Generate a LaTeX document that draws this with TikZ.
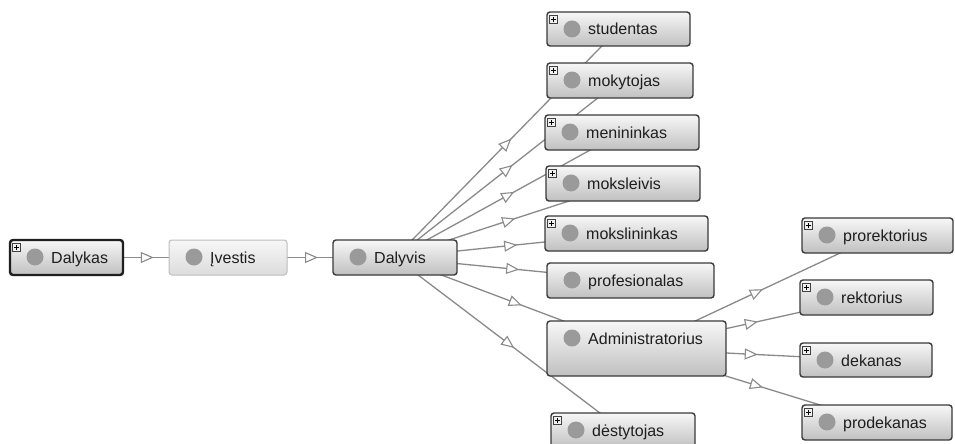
\documentclass[tikz,border=0pt]{standalone}
\usepackage{fontspec}
\setmainfont{Liberation Sans}
\usetikzlibrary{calc,arrows.meta,decorations.markings}

\pgfdeclarelayer{paper}
\pgfdeclarelayer{wires}
\pgfsetlayers{paper,wires,main}

\definecolor{boxtop}{HTML}{F7F7F7}
\definecolor{boxbot}{HTML}{C0C0C0}
\definecolor{boxline}{HTML}{3A3A3A}
\definecolor{fadetop}{HTML}{F7F7F7}
\definecolor{fadebot}{HTML}{DCDCDC}
\definecolor{fadeline}{HTML}{BDBDBD}
\definecolor{dotgray}{HTML}{9A9A9A}
\definecolor{labelink}{HTML}{1E1E1E}
\definecolor{wiregray}{HTML}{8A8A8A}

\tikzset{
  obox/.style={draw=boxline, line width=1.4pt, rounded corners=3pt,
    top color=boxtop, bottom color=boxbot, inner sep=0pt, outer sep=0pt,
    anchor=north west},
  focusbox/.style={obox, draw=black!88, line width=2.4pt},
  fadedbox/.style={obox, draw=fadeline, line width=1pt,
    top color=fadetop, bottom color=fadebot},
  dot/.style={circle, fill=dotgray, minimum size=17pt, inner sep=0pt},
  lbl/.style={anchor=base west, inner sep=0pt, text=labelink,
    font=\fontsize{16}{19}\selectfont},
  plusbox/.style={draw=black!75, line width=0.7pt, fill=black!6,
    minimum size=8pt, inner sep=0pt},
  link/.style={draw=wiregray, line width=1.3pt, postaction={decorate},
    decoration={markings, mark=at position 0.5 with
      {\arrow[xshift=6.5pt]{Triangle[length=13pt,width=11pt,fill=white,line width=1.1pt]}}}},
}

% class box: [style] name, left, top, right, bottom, label
\newcommand\ontonode[7][obox]{%
  \node[#1, minimum width={(#5-#3)*1pt}, minimum height={(#6-#4)*1pt}] (#2) at (#3,#4) {};
  \node[dot] at ($(#2.north west)+(25,17)$) {};
  \node[lbl] at ($(#2.north west)+(41,23)$) {#7};
}
% small expand marker in the upper left corner of a box
\newcommand\expander[1]{%
  \node[plusbox] (#1-plus) at ($(#1.north west)+(6.5,7.5)$) {};
  \draw[line width=1pt] ($(#1-plus.center)+(-2.6,0)$) -- +(5.2,0)
                        ($(#1-plus.center)+(0,-2.6)$) -- +(0,5.2);
}

\begin{document}
\begin{tikzpicture}[x=1pt,y=-1pt]
  \useasboundingbox (0,0) rectangle (955,444);
  \begin{pgfonlayer}{paper}
    \fill[white] (0,0) rectangle (955,444);
  \end{pgfonlayer}
  \clip (0,0) rectangle (955,444);

  % chain on the left
  \ontonode[focusbox]{dalykas}{10}{240}{123}{275}{Dalykas}
  \expander{dalykas}
  \ontonode[fadedbox]{ivestis}{169}{240}{287}{275}{Įvestis}
  \ontonode{dalyvis}{333}{240}{457}{275}{Dalyvis}

  % subclasses of Dalyvis
  \ontonode{stud}{547}{12}{690}{46}{studentas}
  \expander{stud}
  \ontonode{mokyt}{547}{63}{693}{98}{mokytojas}
  \expander{mokyt}
  \ontonode{menin}{545}{115}{699}{150}{menininkas}
  \expander{menin}
  \ontonode{moksl}{546}{166}{700}{201}{moksleivis}
  \expander{moksl}
  \ontonode{mokslin}{545}{216}{708}{251}{mokslininkas}
  \expander{mokslin}
  \ontonode{prof}{547}{263}{714}{298}{profesionalas}
  \ontonode{admin}{547}{321}{726}{376}{Administratorius}
  \ontonode{dest}{551}{413}{695}{448}{dėstytojas}
  \expander{dest}

  % subclasses of Administratorius
  \ontonode{prorekt}{802}{218}{953}{253}{prorektorius}
  \expander{prorekt}
  \ontonode{rekt}{800}{280}{933}{315}{rektorius}
  \expander{rekt}
  \ontonode{dek}{800}{343}{932}{377}{dekanas}
  \expander{dek}
  \ontonode{prodek}{802}{405}{952}{440}{prodekanas}
  \expander{prodek}

  % is-a links, drawn centre to centre beneath the boxes
  \begin{pgfonlayer}{wires}
    \draw[link] (dalykas.center) -- (ivestis.center);
    \draw[link] (ivestis.center) -- (dalyvis.center);
    \foreach \kid in {stud,mokyt,menin,moksl,mokslin,prof,admin,dest}
      \draw[link] (dalyvis.center) -- (\kid.center);
    \foreach \kid in {prorekt,rekt,dek,prodek}
      \draw[link] (admin.center) -- (\kid.center);
  \end{pgfonlayer}
\end{tikzpicture}
\end{document}
